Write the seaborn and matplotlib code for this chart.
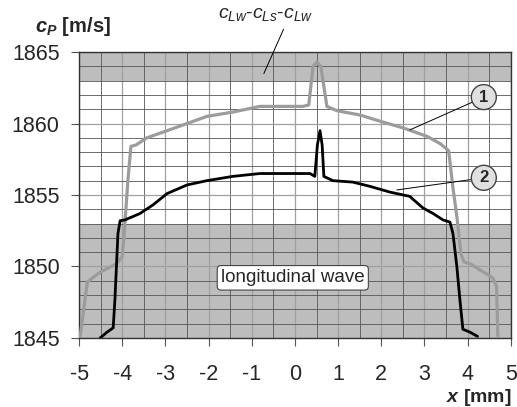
import numpy as np
import pandas as pd
import seaborn as sns
import matplotlib.pyplot as plt
from matplotlib.ticker import MultipleLocator

# curve 1 (grey)
x1 = [-4.98, -4.81, -4.51, -4.12, -4.0, -3.95, -3.87, -3.8, -3.68, -3.43, -2.96, -2.5,
      -2.04, -1.44, -0.81, 0.19, 0.32, 0.42, 0.51, 0.6, 0.74, 0.97, 1.5, 2.04, 2.5, 3.06,
      3.36, 3.56, 3.66, 3.75, 3.85, 3.92, 4.05, 4.58, 4.67, 4.70]
y1 = [1845.0, 1848.9, 1849.6, 1850.2, 1850.7, 1852.5, 1856.0, 1858.4, 1858.5, 1859.0,
      1859.5, 1860.0, 1860.5, 1860.8, 1861.2, 1861.2, 1861.3, 1864.0, 1864.3, 1864.0,
      1861.2, 1860.9, 1860.6, 1860.1, 1859.7, 1859.1, 1858.6, 1858.1, 1855.5, 1853.5,
      1850.8, 1850.3, 1850.2, 1849.2, 1848.6, 1845.1]

# curve 2 (black)
x2 = [-4.51, -4.35, -4.21, -4.17, -4.1, -4.05, -3.94, -3.59, -3.29, -2.96, -2.5, -2.04,
      -1.44, -0.81, 0.35, 0.46, 0.52, 0.58, 0.63, 0.67, 0.88, 1.34, 1.74, 2.2, 2.66,
      2.96, 3.2, 3.43, 3.59, 3.66, 3.75, 3.82, 3.89, 4.05, 4.23]
y2 = [1845.0, 1845.4, 1845.7, 1847.7, 1852.3, 1853.2, 1853.25, 1853.7, 1854.3, 1855.1,
      1855.7, 1856.0, 1856.3, 1856.5, 1856.5, 1856.3, 1858.5, 1859.5, 1858.5, 1856.3,
      1856.0, 1855.9, 1855.6, 1855.2, 1854.9, 1854.1, 1853.7, 1853.25, 1853.1, 1852.3,
      1850.0, 1847.7, 1845.6, 1845.4, 1845.1]

df1 = pd.DataFrame({"x": x1, "c": y1})
df2 = pd.DataFrame({"x": x2, "c": y2})

sns.set_style("white")
plt.rcParams["font.family"] = ["Liberation Sans", "DejaVu Sans"]
plt.rcParams["axes.unicode_minus"] = False
plt.rcParams["mathtext.fontset"] = "custom"
plt.rcParams["mathtext.rm"] = "Liberation Sans"
plt.rcParams["mathtext.it"] = "Liberation Sans:italic"
plt.rcParams["mathtext.bf"] = "Liberation Sans:bold"
plt.rcParams["mathtext.bfit"] = "Liberation Sans:bold:italic"

fig = plt.figure(figsize=(5.17, 4.07), dpi=100)
ax = fig.add_axes([0.153, 0.170, 0.835, 0.702])

# shaded bands
ax.axhspan(1863, 1865, color="#bdbdbd", zorder=0.1, lw=0)
ax.axhspan(1845, 1853, color="#bdbdbd", zorder=0.1, lw=0)

sns.lineplot(data=df1, x="x", y="c", color="#9c9c9c", lw=2.3, sort=False, ax=ax, zorder=3)
sns.lineplot(data=df2, x="x", y="c", color="black", lw=2.0, sort=False, ax=ax, zorder=4)

ax.set_xlim(-5, 5)
ax.set_ylim(1845, 1865)
ax.xaxis.set_major_locator(MultipleLocator(1))
ax.xaxis.set_minor_locator(MultipleLocator(0.5))
ax.yaxis.set_major_locator(MultipleLocator(5))
ax.yaxis.set_minor_locator(MultipleLocator(1))
ax.set_axisbelow(True)
ax.grid(which="major", color="#a0a0a0", lw=0.9)
ax.grid(which="minor", color="#555555", lw=0.6)
ax.tick_params(which="major", direction="out", length=6, width=0.8, color="#555555",
               labelsize=15.5, bottom=True, left=True)
ax.tick_params(axis="x", which="major", pad=13)
ax.tick_params(axis="y", which="major", pad=8)
ax.tick_params(which="minor", length=0)
for s in ax.spines.values():
    s.set_color("#333333")
    s.set_linewidth(1.0)
ax.set_xlabel("")
ax.set_ylabel("")

fig.text(0.068, 0.922, r"$\mathbfit{c}_{\mathbfit{P}}$ [m/s]", fontsize=14.5, fontweight="bold")
fig.text(0.99, 0.013, r"$\mathbfit{x}$ [mm]", fontsize=14, fontweight="bold", ha="right",
         va="baseline")

ax.annotate(r"$c_{Lw}$-$c_{Ls}$-$c_{Lw}$", xy=(-0.72, 1863.5), xytext=(-0.69, 1867.6),
            ha="center", va="center", fontsize=14, annotation_clip=False,
            arrowprops=dict(arrowstyle="-", color="black", lw=0.7, shrinkA=2, shrinkB=0,
                            relpos=(0.72, 0.0)))

circ = dict(boxstyle="circle,pad=0.3", fc="#e0e0e0", ec="#444444", lw=1)
ax.annotate("1", xy=(2.66, 1859.55), xytext=(4.375, 1861.85), ha="center", va="center",
            fontsize=12, fontweight="bold", bbox=circ,
            arrowprops=dict(arrowstyle="-", color="black", lw=0.7, shrinkA=0, shrinkB=0))
ax.annotate("2", xy=(2.36, 1855.35), xytext=(4.375, 1856.2), ha="center", va="center",
            fontsize=12, fontweight="bold", bbox=circ,
            arrowprops=dict(arrowstyle="-", color="black", lw=0.7, shrinkA=0, shrinkB=0))

ax.text(-0.05, 1849.2, "longitudinal wave", ha="center", va="center", fontsize=13.5,
        bbox=dict(boxstyle="round,pad=0.2", fc="white", ec="#444444", lw=0.8), zorder=5)

fig.savefig("out.png", dpi=100)
